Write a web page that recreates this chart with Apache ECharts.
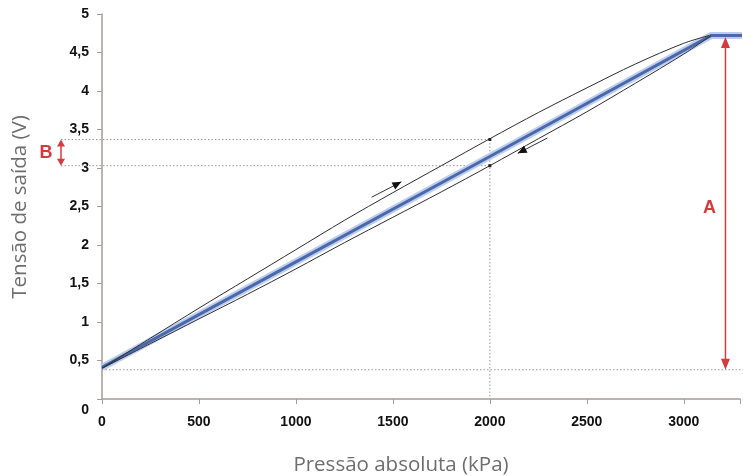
<!DOCTYPE html>
<html>
<head>
<meta charset="utf-8">
<script src="https://cdn.jsdelivr.net/npm/echarts@6/dist/echarts.min.js"></script>
<style>
  html, body { margin: 0; padding: 0; background: #ffffff; }
  #chart { width: 743px; height: 476px; }
</style>
</head>
<body>
<div id="chart"></div>
<script>
// Sensor output voltage vs absolute pressure (hysteresis loop)
const xTicks = [0, 500, 1000, 1500, 2000, 2500, 3000];
const yTicks = [0, 0.5, 1, 1.5, 2, 2.5, 3, 3.5, 4, 4.5, 5];

// Ideal characteristic (thick blue)
const pressureMid = [0, 1000, 2000, 3140, 3300];
const voltageMid  = [0.41, 1.78, 3.15, 4.72, 4.72];

// Rising pressure branch
const pressureUp = [0, 250, 500, 750, 1000, 1250, 1500, 1750, 2000, 2250, 2500, 2750, 3000, 3130];
const voltageUp  = [0.40, 0.79, 1.18, 1.56, 1.94, 2.32, 2.68, 3.03, 3.38, 3.72, 4.04, 4.35, 4.62, 4.72];

// Falling pressure branch
const pressureDown = [0, 250, 500, 750, 1000, 1250, 1500, 1750, 2000, 2250, 2500, 2750, 3000, 3140];
const voltageDown  = [0.40, 0.72, 1.04, 1.36, 1.69, 2.03, 2.36, 2.69, 3.03, 3.38, 3.73, 4.10, 4.48, 4.72];

// Annotation values
const refPressure = 2000;
const refHigh = 3.37;     // B upper level
const refLow = 3.03;      // B lower level
const spanTop = 4.70;     // A upper end
const spanBottom = 0.38;  // A lower end / offset level
const spanPressure = 3215;
const arrowUp = [[1390, 2.62], [1544, 2.82]];
const arrowDown = [[2297, 3.39], [2144, 3.19]];

const pairs = (xs, ys) => xs.map((x, i) => [x, ys[i]]);

const chart = echarts.init(document.getElementById('chart'));
const labelFont = { fontFamily: 'Liberation Sans, Arial, sans-serif', fontWeight: 'bold', fontSize: 14, color: '#111' };

chart.setOption({
  backgroundColor: '#ffffff',
  animation: false,
  grid: { left: 102, right: 0, top: 14, bottom: 77, containLabel: false },
  xAxis: {
    type: 'value', min: 0, max: 3290, interval: 500,
    axisLine: { lineStyle: { color: '#a59d97', width: 1.5 } },
    axisTick: { show: true, length: 5, lineStyle: { color: '#a59d97' } },
    axisLabel: Object.assign({
      margin: 16,
      hideOverlap: false,
      formatter: v => xTicks.indexOf(v) >= 0 ? String(v) : ''
    }, labelFont),
    splitLine: { show: false }
  },
  yAxis: {
    type: 'value', min: 0, max: 5, interval: 0.5,
    axisLine: { show: true, lineStyle: { color: '#a59d97', width: 1.5 } },
    axisTick: { show: true, length: 5, lineStyle: { color: '#a59d97' } },
    axisLabel: Object.assign({
      margin: 13,
      formatter: v => v === 0 ? '{z|0}' : String(v).replace('.', ','),
      rich: { z: Object.assign({ padding: [22, 0, 0, 0] }, labelFont) }
    }, labelFont),
    splitLine: { show: false }
  },
  series: [
    { type: 'line', data: pairs(pressureMid, voltageMid), symbol: 'none', z: 2,
      lineStyle: { color: '#bccdee', width: 7 } },
    { type: 'line', data: pairs(pressureMid, voltageMid), symbol: 'none', z: 3,
      lineStyle: { color: '#4a68aa', width: 3 } },
    { type: 'line', data: pairs(pressureUp, voltageUp), symbol: 'none', smooth: 0.3, z: 4,
      lineStyle: { color: '#2e2e2e', width: 1 } },
    { type: 'line', data: pairs(pressureDown, voltageDown), symbol: 'none', smooth: 0.3, z: 4,
      lineStyle: { color: '#2e2e2e', width: 1 } }
  ]
});

// Annotations placed through the chart's own scales
const px = (x, y) => chart.convertToPixel({ gridIndex: 0 }, [x, y]);
function head(tip, from, len, half) {
  const dx = tip[0] - from[0], dy = tip[1] - from[1];
  const d = Math.hypot(dx, dy), ux = dx / d, uy = dy / d;
  const bx = tip[0] - ux * len, by = tip[1] - uy * len;
  return [tip, [bx - uy * half, by + ux * half], [bx + uy * half, by - ux * half]];
}
const dotted = { stroke: '#9a9a9a', lineWidth: 1, lineDash: [1.5, 2] };
const red = '#d63a3c';

const pHigh = px(refPressure, refHigh);
const pLow = px(refPressure, refLow);
const pBase = px(refPressure, 0);
const pOff0 = px(0, spanBottom);
const bX = 61;
const aTop = px(spanPressure, spanTop);
const aBot = px(spanPressure, spanBottom);
const up0 = px(...arrowUp[0]), up1 = px(...arrowUp[1]);
const dn0 = px(...arrowDown[0]), dn1 = px(...arrowDown[1]);

const g = [];
g.push({ type: 'line', shape: { x1: bX, y1: pHigh[1], x2: pHigh[0], y2: pHigh[1] }, style: dotted, z: 1 });
g.push({ type: 'line', shape: { x1: bX, y1: pLow[1], x2: pLow[0], y2: pLow[1] }, style: dotted, z: 1 });
g.push({ type: 'line', shape: { x1: pHigh[0], y1: pHigh[1], x2: pBase[0], y2: pBase[1] }, style: dotted, z: 1 });
g.push({ type: 'line', shape: { x1: pOff0[0], y1: pOff0[1], x2: 743, y2: pOff0[1] }, style: dotted, z: 1 });
g.push({ type: 'rect', shape: { x: pHigh[0] - 1.5, y: pHigh[1] - 1.5, width: 3, height: 3 }, style: { fill: '#222' }, z: 10 });
g.push({ type: 'rect', shape: { x: pLow[0] - 1.5, y: pLow[1] - 1.5, width: 3, height: 3 }, style: { fill: '#222' }, z: 10 });

// B span
g.push({ type: 'line', shape: { x1: bX, y1: pHigh[1] + 4, x2: bX, y2: pLow[1] - 4 }, style: { stroke: red, lineWidth: 1.5 }, z: 10 });
g.push({ type: 'polygon', shape: { points: head([bX, pHigh[1]], [bX, pLow[1]], 7, 4) }, style: { fill: red }, z: 10 });
g.push({ type: 'polygon', shape: { points: head([bX, pLow[1]], [bX, pHigh[1]], 7, 4) }, style: { fill: red }, z: 10 });
g.push({ type: 'text', x: 46, y: (pHigh[1] + pLow[1]) / 2, style: { text: 'B', fill: red, font: 'bold 18px Liberation Sans, Arial, sans-serif', align: 'center', verticalAlign: 'middle' }, z: 10 });

// A span
g.push({ type: 'line', shape: { x1: aTop[0], y1: aTop[1] + 6, x2: aBot[0], y2: aBot[1] - 6 }, style: { stroke: red, lineWidth: 1.5 }, z: 10 });
g.push({ type: 'polygon', shape: { points: head(aTop, aBot, 11, 4.5) }, style: { fill: red }, z: 10 });
g.push({ type: 'polygon', shape: { points: head(aBot, aTop, 11, 4.5) }, style: { fill: red }, z: 10 });
g.push({ type: 'text', x: aTop[0] - 16, y: 208, style: { text: 'A', fill: red, font: 'bold 18px Liberation Sans, Arial, sans-serif', align: 'center', verticalAlign: 'middle' }, z: 10 });

// Direction arrows
g.push({ type: 'line', shape: { x1: up0[0], y1: up0[1], x2: up1[0], y2: up1[1] }, style: { stroke: '#333', lineWidth: 1 }, z: 10 });
g.push({ type: 'polygon', shape: { points: head(up1, up0, 9, 4) }, style: { fill: '#111' }, z: 10 });
g.push({ type: 'line', shape: { x1: dn0[0], y1: dn0[1], x2: dn1[0], y2: dn1[1] }, style: { stroke: '#333', lineWidth: 1 }, z: 10 });
g.push({ type: 'polygon', shape: { points: head(dn1, dn0, 9, 4) }, style: { fill: '#111' }, z: 10 });

// Axis titles
g.push({ type: 'text', x: 401, y: 465, style: { text: 'Pressão absoluta (kPa)', fill: '#6e6e6e', font: '20.5px Open Sans, sans-serif', align: 'center', verticalAlign: 'middle' }, z: 10 });
g.push({ type: 'text', x: 20, y: 207, rotation: Math.PI / 2, style: { text: 'Tensão de saída (V)', fill: '#6e6e6e', font: '20.5px Open Sans, sans-serif', align: 'center', verticalAlign: 'middle' }, z: 10 });

chart.setOption({ graphic: g });
</script>
</body>
</html>
